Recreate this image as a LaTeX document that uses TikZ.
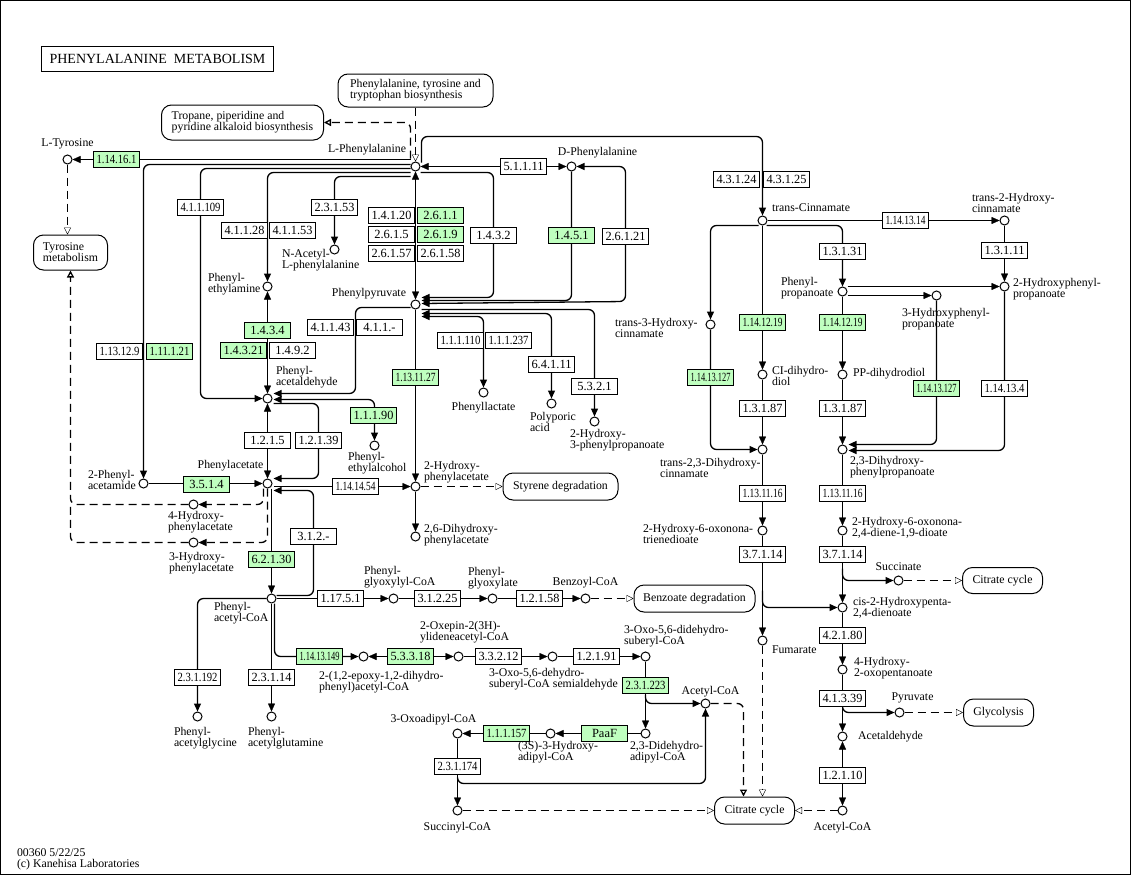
\documentclass[tikz,border=0pt]{standalone}
\usepackage{fontspec}
\setmainfont{Liberation Serif}
\usepackage{graphicx}
\usetikzlibrary{arrows.meta,backgrounds,calc,positioning}
\definecolor{kgreen}{HTML}{BFFFBF}
\newcommand\kfont{\fontsize{11.8}{11}\selectfont}
\newcommand\ecfont{\fontsize{12.5}{12.5}\selectfont}
\newcommand\ecw[1]{\sbox0{#1}\ifdim\wd0>40pt\resizebox{40pt}{\height}{#1}\else\usebox0\fi}
\tikzset{cpd/.style={draw,circle,fill=white,minimum size=9pt,inner sep=0pt},
lbl/.style={inner sep=0pt,align=left,font=\kfont},
enz/.style={draw,fill=white,minimum width=46pt,minimum height=16pt,inner sep=0pt,font=\ecfont},
enzg/.style={enz,fill=kgreen},
mapbox/.style={draw,rounded corners=10pt,fill=white,align=left,inner sep=0pt,font=\kfont},
maplink/.style={dash pattern=on 8pt off 5pt,-{Triangle[open,length=7pt,width=7pt]}},
dsh/.style={dash pattern=on 8pt off 5pt},
elbow/.style={rounded corners=6pt,line width=1.3pt}}

\begin{document}
\begin{tikzpicture}[x=1pt,y=-1pt,line width=1pt,>={Triangle[length=8pt,width=7pt]}]
\useasboundingbox (0,0) rectangle (1131,875);
\begin{scope}[shift={(0.5,0.5)}]
\draw (0,0) rectangle (1130,874);
\node[draw,minimum width=232pt,minimum height=25pt,inner sep=0pt,font=\fontsize{14}{14}\selectfont] (title) at (157,58.5) {PHENYLALANINE\ \ METABOLISM};
\node[mapbox,minimum width=155pt,minimum height=33pt] (pttb) at (415,90) {Phenylalanine, tyrosine and\\tryptophan biosynthesis};
\node[mapbox,minimum width=162pt,minimum height=35pt] (trop) at (242,122) {Tropane, piperidine and\\pyridine alkaloid biosynthesis};
\node[mapbox,minimum width=74pt,minimum height=35pt] (tyr) at (70,252) {Tyrosine\\metabolism};
\node[mapbox,minimum width=115pt,minimum height=27pt] (sty) at (560,486) {Styrene degradation};
\node[mapbox,minimum width=121pt,minimum height=27pt] (bz) at (694,598) {Benzoate degradation};
\node[mapbox,minimum width=80pt,minimum height=26pt] (tca1) at (1002,580) {Citrate cycle};
\node[mapbox,minimum width=70pt,minimum height=27pt] (gly) at (998,712) {Glycolysis};
\node[mapbox,minimum width=80pt,minimum height=27pt] (tca2) at (754,810) {Citrate cycle};

\node[cpd] (lphe) at (415,166) {};
\node[cpd] (ltyr) at (67,159) {};
\node[cpd] (dphe) at (571,166) {};
\node[cpd] (phpyr) at (415,304) {};
\node[cpd] (nacphe) at (334,249) {};
\node[cpd] (phea) at (267,286) {};
\node[cpd] (phald) at (267,398) {};
\node[cpd] (phac) at (267,483) {};
\node[cpd] (phacam) at (143,483) {};
\node[cpd] (hpac4) at (193,504) {};
\node[cpd] (hpac3) at (193,542) {};
\node[cpd] (pheol) at (374,445) {};
\node[cpd] (hpac2) at (415,486) {};
\node[cpd] (dhpac) at (415,536) {};
\node[cpd] (phlac) at (483,392) {};
\node[cpd] (polyp) at (551,403) {};
\node[cpd] (hpp) at (594,421) {};
\node[cpd] (phcoa) at (271,598) {};
\node[cpd] (phgly) at (197,716) {};
\node[cpd] (phgln) at (271,716) {};
\node[cpd] (pgcoa) at (393,598) {};
\node[cpd] (pglx) at (492,598) {};
\node[cpd] (bzcoa) at (585,598) {};
\node[cpd] (epcoa) at (363,656) {};
\node[cpd] (oxcoa) at (458,656) {};
\node[cpd] (oscoa) at (552,656) {};
\node[cpd] (odcoa) at (645,656) {};
\node[cpd] (accoa) at (705,703) {};
\node[cpd] (ddcoa) at (645,733) {};
\node[cpd] (hacoa) at (550,733) {};
\node[cpd] (oacoa) at (457,733) {};
\node[cpd] (sucoa) at (457,810) {};
\node[cpd] (tcin) at (762,220) {};
\node[cpd] (thc2) at (1004,220) {};
\node[cpd] (phpr) at (842,291) {};
\node[cpd] (hpp2) at (1004,286) {};
\node[cpd] (hpp3) at (936,295) {};
\node[cpd] (thc3) at (710,324) {};
\node[cpd] (cidiol) at (762,374) {};
\node[cpd] (ppdiol) at (842,374) {};
\node[cpd] (dhc) at (762,449) {};
\node[cpd] (dhpp) at (842,449) {};
\node[cpd] (hon) at (762,530) {};
\node[cpd] (hod) at (842,530) {};
\node[cpd] (succ) at (898,580) {};
\node[cpd] (hpd) at (842,607) {};
\node[cpd] (fum) at (762,640) {};
\node[cpd] (hop) at (842,669) {};
\node[cpd] (pyr) at (899,712) {};
\node[cpd] (acald) at (842,736) {};
\node[cpd] (accoa2) at (842,810) {};

\node[lbl,above=5pt of ltyr] (ltyrt) {L-Tyrosine};
\node[lbl,anchor=east] (lphet) at (406,149) {L-Phenylalanine};
\node[lbl] (dphet) at (597,152) {D-Phenylalanine};
\node[lbl,anchor=east] (phpyrt) at (406,293) {Phenylpyruvate};
\node[lbl,anchor=west] (nacphet) at (281,260) {N-Acetyl-\\L-phenylalanine};
\node[lbl,anchor=west] (pheat) at (207,284) {Phenyl-\\ethylamine};
\node[lbl,anchor=west] (phaldt) at (275,377) {Phenyl-\\acetaldehyde};
\node[lbl] (phact) at (230,465) {Phenylacetate};
\node[lbl,anchor=west] (phacamt) at (87,479) {2-Phenyl-\\acetamide};
\node[lbl,anchor=west] (hpac4t) at (167,522) {4-Hydroxy-\\phenylacetate};
\node[lbl,anchor=west] (hpac3t) at (168,563) {3-Hydroxy-\\phenylacetate};
\node[lbl,anchor=west] (pheolt) at (347,463) {Phenyl-\\ethylalcohol};
\node[lbl,anchor=west] (hpac2t) at (423,472) {2-Hydroxy-\\phenylacetate};
\node[lbl,anchor=west] (dhpact) at (423,535) {2,6-Dihydroxy-\\phenylacetate};
\node[lbl,below=4pt of phlac] (phlact) {Phenyllactate};
\node[lbl,anchor=west] (polypt) at (529,421) {Polyporic\\acid};
\node[lbl,anchor=west] (hppt) at (569,440) {2-Hydroxy-\\3-phenylpropanoate};
\node[lbl,anchor=west] (phcoat) at (213,613) {Phenyl-\\acetyl-CoA};
\node[lbl,anchor=west] (phglyt) at (173,738) {Phenyl-\\acetylglycine};
\node[lbl,anchor=west] (phglnt) at (247,738) {Phenyl-\\acetylglutamine};
\node[lbl,anchor=west] (pgcoat) at (363,577) {Phenyl-\\glyoxylyl-CoA};
\node[lbl,anchor=west] (pglxt) at (467,578) {Phenyl-\\glyoxylate};
\node[lbl,above=5pt of bzcoa] (bzcoat) {Benzoyl-CoA};
\node[lbl,anchor=west] (epcoat) at (318,682) {2-(1,2-epoxy-1,2-dihydro-\\phenyl)acetyl-CoA};
\node[lbl,anchor=west] (oxcoat) at (419,632) {2-Oxepin-2(3H)-\\ylideneacetyl-CoA};
\node[lbl,anchor=west] (oscoat) at (488,679) {3-Oxo-5,6-dehydro-\\suberyl-CoA semialdehyde};
\node[lbl,anchor=west] (odcoat) at (623,636) {3-Oxo-5,6-didehydro-\\suberyl-CoA};
\node[lbl] (accoat) at (710,691) {Acetyl-CoA};
\node[lbl,anchor=west] (ddcoat) at (629,752) {2,3-Didehydro-\\adipyl-CoA};
\node[lbl,anchor=west] (hacoat) at (517,752) {(3S)-3-Hydroxy-\\adipyl-CoA};
\node[lbl] (oacoat) at (433,719) {3-Oxoadipyl-CoA};
\node[lbl,below=6pt of sucoa] (sucoat) {Succinyl-CoA};
\node[lbl,anchor=west] (tcint) at (771,207) {trans-Cinnamate};
\node[lbl,anchor=west] (thc2t) at (971,202) {trans-2-Hydroxy-\\cinnamate};
\node[lbl,anchor=west] (phprt) at (780,288) {Phenyl-\\propanoate};
\node[lbl,anchor=west] (hpp2t) at (1012,289) {2-Hydroxyphenyl-\\propanoate};
\node[lbl,anchor=west] (hpp3t) at (901,319) {3-Hydroxyphenyl-\\propanoate};
\node[lbl,anchor=west] (thc3t) at (614,327) {trans-3-Hydroxy-\\cinnamate};
\node[lbl,anchor=west] (cidiolt) at (771,375) {CI-dihydro-\\diol};
\node[lbl,anchor=west] (ppdiolt) at (852,373) {PP-dihydrodiol};
\node[lbl,anchor=west] (dhct) at (659,467) {trans-2,3-Dihydroxy-\\cinnamate};
\node[lbl,anchor=west] (dhppt) at (849,467) {2,3-Dihydroxy-\\phenylpropanoate};
\node[lbl,anchor=west] (hont) at (642,533) {2-Hydroxy-6-oxonona-\\trienedioate};
\node[lbl,anchor=west] (hodt) at (851,527) {2-Hydroxy-6-oxonona-\\2,4-diene-1,9-dioate};
\node[lbl,above=4pt of succ] (succt) {Succinate};
\node[lbl,anchor=west] (hpdt) at (852,607) {cis-2-Hydroxypenta-\\2,4-dienoate};
\node[lbl,anchor=west] (fumt) at (771,649) {Fumarate};
\node[lbl,anchor=west] (hopt) at (853,668) {4-Hydroxy-\\2-oxopentanoate};
\node[lbl] (pyrt) at (912,697) {Pyruvate};
\node[lbl,anchor=west] (acaldt) at (857,736) {Acetaldehyde};
\node[lbl,below=6pt of accoa2] (accoa2t) {Acetyl-CoA};
\node[lbl,anchor=west] (mapid) at (16,852) {00360 5/22/25};
\node[lbl,anchor=west] (kcopy) at (16,864) {(c) Kanehisa Laboratories};

\node[enzg] (e14161) at (116,159) {\ecw{1.14.16.1}};
\node[enz] (e411109) at (200,207) {\ecw{4.1.1.109}};
\node[enz] (e41128) at (244,230) {\ecw{4.1.1.28}};
\node[enz] (e41153) at (292,230) {\ecw{4.1.1.53}};
\node[enz] (e23153) at (334,207) {\ecw{2.3.1.53}};
\node[enz] (e14120) at (391,215) {\ecw{1.4.1.20}};
\node[enzg] (e2611) at (440,215) {\ecw{2.6.1.1}};
\node[enz] (e2615) at (391,234) {\ecw{2.6.1.5}};
\node[enzg] (e2619) at (440,234) {\ecw{2.6.1.9}};
\node[enz] (e26157) at (391,253) {\ecw{2.6.1.57}};
\node[enz] (e26158) at (440,253) {\ecw{2.6.1.58}};
\node[enz] (e1432) at (493,235) {\ecw{1.4.3.2}};
\node[enz] (e51111) at (523,166) {\ecw{5.1.1.11}};
\node[enzg] (e1451) at (571,235) {\ecw{1.4.5.1}};
\node[enz] (e26121) at (625,236) {\ecw{2.6.1.21}};
\node[enzg] (e1434) at (267,330) {\ecw{1.4.3.4}};
\node[enz] (e41143) at (330,327) {\ecw{4.1.1.43}};
\node[enz] (e411x) at (379,327) {\ecw{4.1.1.-}};
\node[enz] (e113129) at (119,351) {\ecw{1.13.12.9}};
\node[enzg] (e111121) at (169,351) {\ecw{1.11.1.21}};
\node[enzg] (e14321) at (243,350) {\ecw{1.4.3.21}};
\node[enz] (e1492) at (292,350) {\ecw{1.4.9.2}};
\node[enz] (e111110) at (460,340) {\ecw{1.1.1.110}};
\node[enz] (e111237) at (508,340) {\ecw{1.1.1.237}};
\node[enz] (e64111) at (551,364) {\ecw{6.4.1.11}};
\node[enz] (e5321) at (594,386) {\ecw{5.3.2.1}};
\node[enzg] (e1131127) at (415,377) {\ecw{1.13.11.27}};
\node[enzg] (e11190) at (373,415) {\ecw{1.1.1.90}};
\node[enz] (e1215) at (267,440) {\ecw{1.2.1.5}};
\node[enz] (e12139) at (318,440) {\ecw{1.2.1.39}};
\node[enzg] (e3514) at (206,484) {\ecw{3.5.1.4}};
\node[enz] (e1141454) at (355,486) {\ecw{1.14.14.54}};
\node[enz] (e312x) at (313,536) {\ecw{3.1.2.-}};
\node[enzg] (e62130) at (271,559) {\ecw{6.2.1.30}};
\node[enz] (e11751) at (340,598) {\ecw{1.17.5.1}};
\node[enz] (e31225) at (437,598) {\ecw{3.1.2.25}};
\node[enz] (e12158) at (539,598) {\ecw{1.2.1.58}};
\node[enzg] (e11413149) at (319,656) {\ecw{1.14.13.149}};
\node[enzg] (e53318) at (410,656) {\ecw{5.3.3.18}};
\node[enz] (e33212) at (498,656) {\ecw{3.3.2.12}};
\node[enz] (e12191) at (596,656) {\ecw{1.2.1.91}};
\node[enz] (e231192) at (197,677) {\ecw{2.3.1.192}};
\node[enz] (e23114) at (271,677) {\ecw{2.3.1.14}};
\node[enzg] (e231223) at (645,685) {\ecw{2.3.1.223}};
\node[enzg] (e111157) at (506,733) {\ecw{1.1.1.157}};
\node[enzg] (epaaf) at (604,733) {PaaF};
\node[enz] (e231174) at (457,766) {\ecw{2.3.1.174}};
\node[enz] (e43124) at (736,179) {\ecw{4.3.1.24}};
\node[enz] (e43125) at (786,179) {\ecw{4.3.1.25}};
\node[enz] (e1141314) at (905,220) {\ecw{1.14.13.14}};
\node[enz] (e13131) at (842,251) {\ecw{1.3.1.31}};
\node[enz] (e13111) at (1004,250) {\ecw{1.3.1.11}};
\node[enzg] (e141219a) at (762,322) {\ecw{1.14.12.19}};
\node[enzg] (e141219b) at (842,322) {\ecw{1.14.12.19}};
\node[enzg] (e1141327a) at (710,377) {\ecw{1.14.13.127}};
\node[enzg] (e1141327b) at (936,388) {\ecw{1.14.13.127}};
\node[enz] (e114134) at (1004,388) {\ecw{1.14.13.4}};
\node[enz] (e13187a) at (762,408) {\ecw{1.3.1.87}};
\node[enz] (e13187b) at (842,408) {\ecw{1.3.1.87}};
\node[enz] (e1131116a) at (762,493) {\ecw{1.13.11.16}};
\node[enz] (e1131116b) at (842,493) {\ecw{1.13.11.16}};
\node[enz] (e37114a) at (762,554) {\ecw{3.7.1.14}};
\node[enz] (e37114b) at (842,554) {\ecw{3.7.1.14}};
\node[enz] (e42180) at (842,635) {\ecw{4.2.1.80}};
\node[enz] (e41339) at (842,698) {\ecw{4.1.3.39}};
\node[enz] (e12110) at (842,775) {\ecw{1.2.1.10}};

\begin{scope}[on background layer]
\draw[->] (lphe.west |- ltyr) -- (ltyr);
\draw[->,elbow] ($(lphe.west)+(0,-2)$) -| (phacam);
\draw[->,elbow] ($(lphe.west)+(0,2)$) -| ($(phald.west)+(-62,0)$) -- (phald);
\draw[->,elbow] ($(lphe.west)+(0,6)$) -| (phea);
\draw[->,elbow] ($(lphe.west)+(0,10)$) -| (nacphe);
\draw[maplink] (pttb) -- (lphe);
\draw[maplink,elbow] ($(lphe.north)+(-5,-3)$) |- (trop);
\path[<->] (lphe) edge (dphe);
\draw[->,elbow] ($(lphe.north)+(6,1)$) |- ($(tcin)+(0,-84)$) -- (tcin);
\path[<->] (lphe) edge (phpyr);
\draw[->,elbow] ($(lphe.east)+(0,6)$) -| (493,297) -- ($(phpyr.east)+(1,-7)$);
\draw[->,elbow] (dphe) |- ($(phpyr.east)+(1,-4)$);
\draw[<->,elbow] (dphe) -| (625,301) -- ($(phpyr.east)+(1,-1)$);
\draw[->,elbow] ($(phpyr.east)+(1,5)$) -| (hpp);
\draw[<->,elbow] ($(phpyr.east)+(1,9)$) -| (polyp);
\draw[<->,elbow] ($(phpyr.east)+(1,12)$) -| (phlac);
\path[->] (phpyr) edge (hpac2);
\draw[->,elbow] ($(phpyr.west)+(0,3)$) -| (355,393) -- ($(phald.east)+(1,-5)$);
\path[<->] (phea) edge (phald);
\path[<->] (phald) edge (phac);
\draw[<->,elbow] ($(phald.east)+(1,1)$) -| (pheol);
\draw[->,elbow] ($(phald.east)+(1,5)$) -| (318,478) -- ($(phac.east)+(1,-5)$);
\draw[->] ($(phac.east)+(1,3)$) -- (hpac2);
\draw[->,elbow] ($(phcoa.east)+(0,-3)$) -| (313,490) -- ($(phac.east)+(1,7)$);
\draw[->] (phcoa.north |- phac.south) -- (phcoa);
\draw[dsh,->,elbow] ($(phac.south)+(-4,0)$) |- (hpac4);
\draw[dsh,->,elbow] (phac.south) |- (hpac3);
\draw[maplink,elbow] (hpac4) -| (tyr);
\draw[dsh,elbow] (hpac3) -| ($(tyr.south)+(0,234)$);
\draw[maplink] (ltyr) -- (ltyr |- tyr.north);
\path[->] (phacam) edge (phac);
\path[->] (phcoa) edge (pgcoa);
\path[->] (pgcoa) edge (pglx);
\path[->] (pglx) edge (bzcoa);
\path[maplink] (bzcoa) edge (bz);
\draw[->,elbow] (phcoa) -| (phgly);
\path[->] (phcoa) edge (phgln);
\draw[->,elbow] ($(phcoa.south)+(3,0)$) |- (epcoa);
\path[<->] (epcoa) edge (oxcoa);
\path[->] (oxcoa) edge (oscoa);
\path[->] (oscoa) edge (odcoa);
\path[->] (odcoa) edge (ddcoa);
\draw[->,elbow] ($(odcoa)+(0,38)$) |- (accoa);
\path[->] (ddcoa) edge (hacoa);
\path[->] (hacoa) edge (oacoa);
\path[->] (oacoa) edge (sucoa);
\draw[->,elbow] ($(oacoa)+(0,44)$) |- ($(accoa)+(0,80)$) -- (accoa);
\draw[maplink,elbow] (accoa) -| ($(tca2.north)+(-11,0)$);
\draw[maplink] (fum) -- (fum |- tca2.north);
\path[maplink] (sucoa) edge (tca2);
\path[maplink] (accoa2) edge (tca2);
\path[maplink] (hpac2) edge (sty);
\path[->] (hpac2) edge (dhpac);
\path[->] (tcin) edge (thc2);
\draw[->,elbow] ($(tcin.west)+(1,5)$) -| (thc3);
\draw[->,elbow] ($(tcin.east)+(-1,5)$) -| (phpr);
\path[->] (tcin) edge (cidiol);
\path[->] (thc2) edge (hpp2);
\draw[->] ($(phpr.east)+(0,-5)$) -- (hpp2);
\draw[->] ($(phpr.east)+(0,4)$) -- (hpp3);
\path[->] (phpr) edge (ppdiol);
\draw[->,elbow] (thc3) |- (dhc);
\path[->] (cidiol) edge (dhc);
\path[->] (ppdiol) edge (dhpp);
\draw[->,elbow] (hpp3) |- ($(dhpp.east)+(1,-5)$);
\draw[->,elbow] (hpp2) |- ($(dhpp.east)+(1,1)$);
\path[->] (dhc) edge (hon);
\path[->] (hon) edge (fum);
\draw[->,elbow] ($(hon)+(0,60)$) |- (hpd);
\path[->] (dhpp) edge (hod);
\path[->] (hod) edge (hpd);
\draw[->,elbow] ($(hod)+(0,38)$) |- (succ);
\path[maplink] (succ) edge (tca1);
\path[->] (hpd) edge (hop);
\path[->] (hop) edge (acald);
\draw[->,elbow] ($(hop)+(0,37)$) |- (pyr);
\path[maplink] (pyr) edge (gly);
\path[<->] (acald) edge (accoa2);
\end{scope}
\end{scope}
\end{tikzpicture}
\end{document}
